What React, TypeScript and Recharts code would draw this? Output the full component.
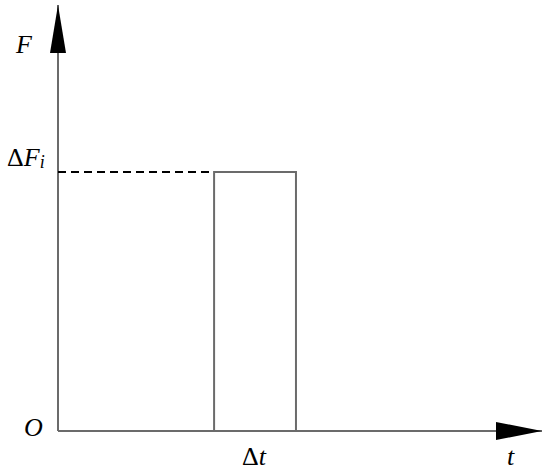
import { ComposedChart, Line, XAxis, YAxis, ReferenceLine, ReferenceDot, Scatter } from 'recharts';

// pulse of height dF lasting dt, drawn on a force-time diagram
const pulse = [
  { t: 3.87, f: 0 },
  { t: 3.87, f: 6.08 },
  { t: 5.9, f: 6.08 },
  { t: 5.9, f: 0 },
];
const forceLevel = 6.08;
const tStart = 3.87;
const tEnd = 5.9;
const xMax = 12;
const yMax = 10;
const arrowTips = [
  { t: 0, f: yMax, dir: 'up' },
  { t: xMax, f: 0, dir: 'right' },
];

const axisColor = '#6b6b6b';
const font = "'Liberation Serif', 'Times New Roman', serif";

const Arrow = (props: any) => {
  const { cx, cy, payload } = props;
  if (payload.dir === 'up') {
    return <path d={`M${cx},${cy} L${cx - 8},${cy + 48} L${cx + 8},${cy + 48} Z`} fill="#000" />;
  }
  return <path d={`M${cx},${cy} L${cx - 46},${cy - 9} L${cx - 46},${cy + 9} Z`} fill="#000" />;
};

const textAt = (content: React.ReactNode, dx: number, dy: number, anchor = 'start') => (p: any) => (
  <text
    x={p.cx + dx}
    y={p.cy + dy}
    textAnchor={anchor}
    style={{ fontFamily: font, fontSize: 26, fontStyle: 'italic' }}
    fill="#000"
  >
    {content}
  </text>
);

export default function App() {
  return (
    <div style={{ position: 'absolute', left: 0, top: 0, background: '#fff' }}>
      <ComposedChart width={550} height={470} margin={{ top: 5, right: 8, bottom: 39, left: 58 }}>
        <XAxis type="number" dataKey="t" domain={[0, xMax]} hide height={0} />
        <YAxis type="number" dataKey="f" domain={[0, yMax]} hide width={0} />
        <ReferenceLine segment={[{ x: 0, y: 0 }, { x: 0, y: yMax }]} stroke={axisColor} strokeWidth={2} />
        <ReferenceLine segment={[{ x: 0, y: 0 }, { x: xMax, y: 0 }]} stroke={axisColor} strokeWidth={2} />
        <ReferenceLine segment={[{ x: 0, y: forceLevel }, { x: tStart, y: forceLevel }]} stroke="#000" strokeWidth={2} strokeDasharray="8 5" />
        <Line data={pulse} dataKey="f" stroke={axisColor} strokeWidth={2} dot={false} isAnimationActive={false} type="linear" />
        <Scatter data={arrowTips} dataKey="f" shape={Arrow} isAnimationActive={false} />
        <ReferenceDot x={0} y={yMax} r={0} shape={textAt('F', -42, 48)} />
        <ReferenceDot
          x={0}
          y={forceLevel}
          r={0}
          shape={textAt(
            <>
              <tspan style={{ fontStyle: 'normal' }}>Δ</tspan>
              <tspan>F</tspan>
              <tspan style={{ fontSize: 18 }} dy={2}>i</tspan>
            </>,
            -51,
            -6,
          )}
        />
        <ReferenceDot x={0} y={0} r={0} shape={textAt('O', -34, 5)} />
        <ReferenceDot
          x={(tStart + tEnd) / 2}
          y={0}
          r={0}
          shape={textAt(
            <>
              <tspan style={{ fontStyle: 'normal' }}>Δ</tspan>
              <tspan>t</tspan>
            </>,
            -1,
            34,
            'middle',
          )}
        />
        <ReferenceDot x={xMax} y={0} r={0} shape={textAt('t', -35, 34)} />
      </ComposedChart>
    </div>
  );
}
